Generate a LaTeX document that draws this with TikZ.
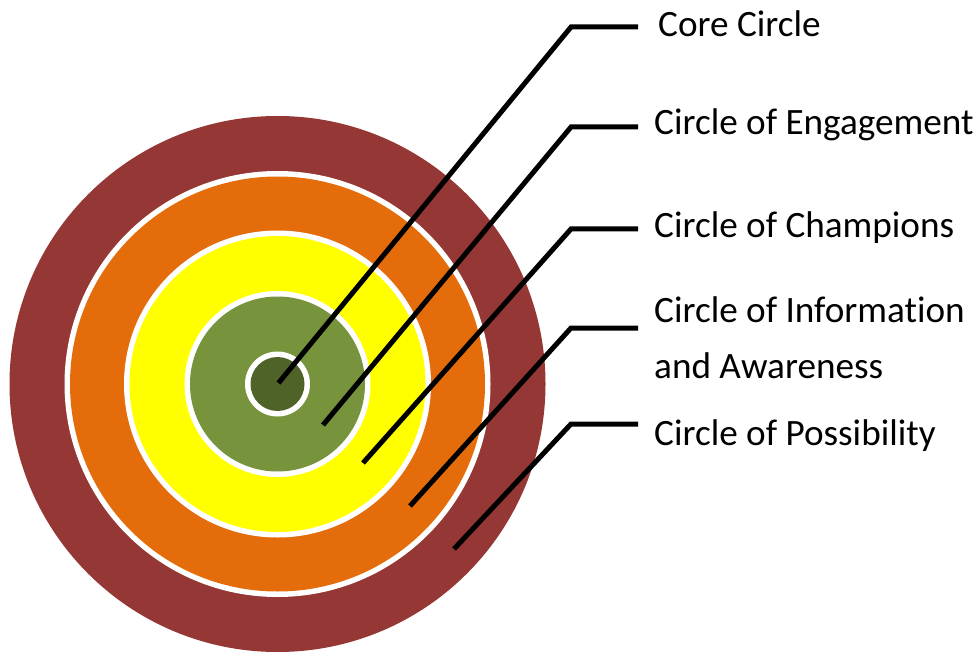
\documentclass[tikz,border=0pt]{standalone}
\usepackage{fontspec}
\setmainfont{Carlito}[Ligatures=NoCommon]
\definecolor{cmaroon}{HTML}{953735}
\definecolor{corange}{HTML}{E46C0A}
\definecolor{cyellow}{HTML}{FFFF00}
\definecolor{cgreen}{HTML}{77933C}
\definecolor{cdark}{HTML}{4F6228}
\begin{document}
\begin{tikzpicture}[x=1pt,y=-1pt,
  leader/.style={line width=5pt,black},
  lbl/.style={anchor=base west,inner sep=0pt,font=\fontsize{37.2}{44}\selectfont}]
\useasboundingbox (0,0) rectangle (979,652);
\coordinate (c) at (277.5,384);
\fill[cmaroon] (c) circle[radius=268pt];
\fill[white] (c) circle[radius=213pt];
\fill[corange] (c) circle[radius=207.5pt];
\fill[white] (c) circle[radius=153.5pt];
\fill[cyellow] (c) circle[radius=148pt];
\fill[white] (c) circle[radius=93pt];
\fill[cgreen] (c) circle[radius=87.5pt];
\fill[white] (c) circle[radius=32.5pt];
\fill[cdark] (c) circle[radius=27pt];
% start points
\coordinate (s1) at (278.5,383);
\coordinate (s2) at (323,425);
\coordinate (s3) at (363,463);
\coordinate (s4) at (410,506);
\coordinate (s5) at (454,549);
% knees
\coordinate (k1) at (571,27);
\coordinate (k2) at (571,127);
\coordinate (k3) at (571,229);
\coordinate (k4) at (571,328);
\coordinate (k5) at (571,424);
% ends
\coordinate (e1) at (638,27);
\coordinate (e2) at (638,127);
\coordinate (e3) at (638,229);
\coordinate (e4) at (638,328);
\coordinate (e5) at (638,424);
\draw[leader] (s1) -- (k1) -- (e1);
\draw[leader] (s2) -- (k2) -- (e2);
\draw[leader] (s3) -- (k3) -- (e3);
\draw[leader] (s4) -- (k4) -- (e4);
\draw[leader] (s5) -- (k5) -- (e5);
\node[lbl] (t1) at (658,37) {Core Circle};
\node[lbl] (t2) at (654,135) {Circle of Engagement};
\node[lbl] (t3) at (654,237) {Circle of Champions};
\node[lbl] (t4) at (654,322) {Circle of Information};
\node[lbl] (t4b) at (654,378) {and Awareness};
\node[lbl] (t5) at (654,445) {Circle of Possibility};
\end{tikzpicture}
\end{document}
